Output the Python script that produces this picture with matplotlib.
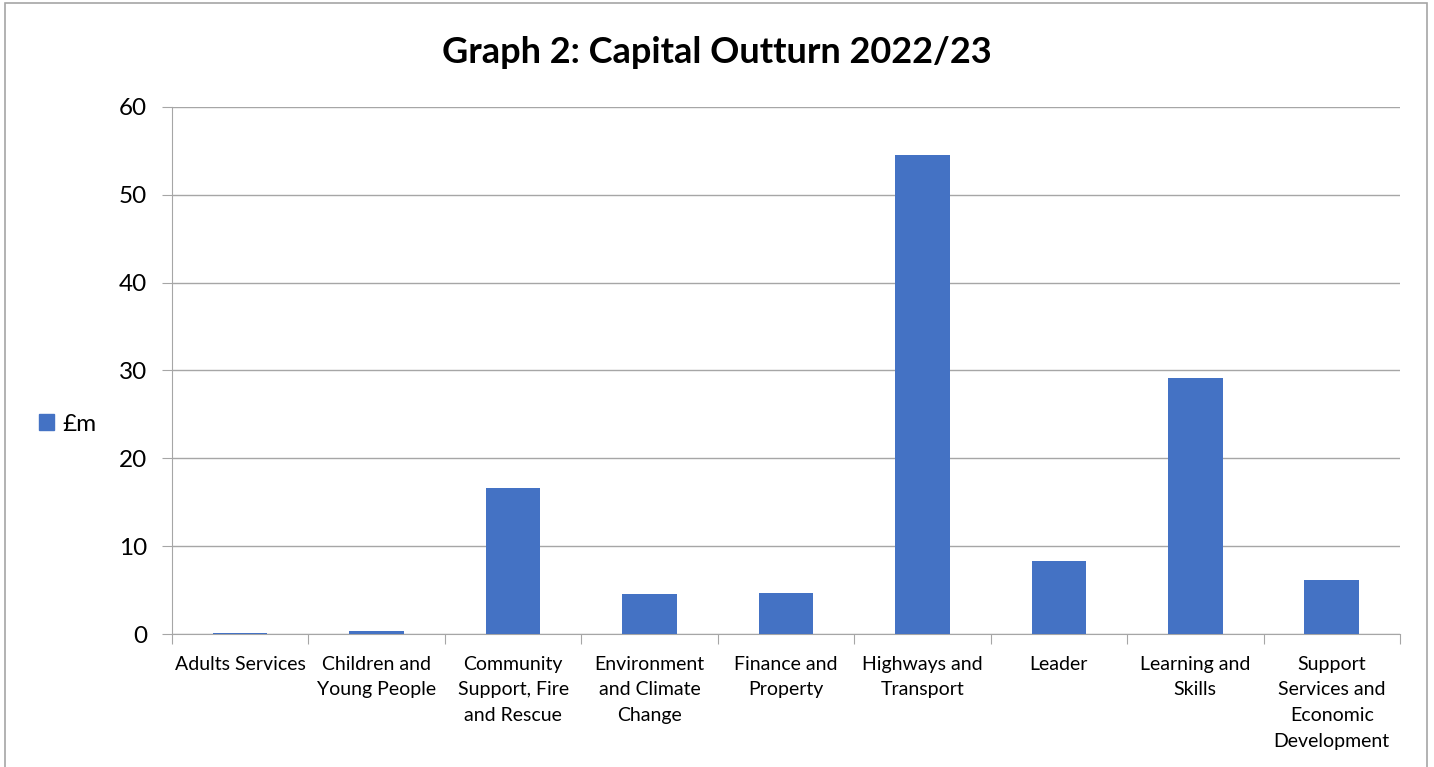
import matplotlib.pyplot as plt
from matplotlib.patches import Rectangle, Patch
import numpy as np

# data
categories = ["Adults Services", "Children and\nYoung People", "Community\nSupport, Fire\nand Rescue",
              "Environment\nand Climate\nChange", "Finance and\nProperty", "Highways and\nTransport",
              "Leader", "Learning and\nSkills", "Support\nServices and\nEconomic\nDevelopment"]
values = [0.08, 0.3, 16.6, 4.6, 4.65, 54.5, 8.3, 29.2, 6.2]
yticks = [0, 10, 20, 30, 40, 50, 60]

plt.rcParams['font.family'] = ['Lato', 'DejaVu Sans']

fig = plt.figure(figsize=(14.34, 7.67), dpi=100)
ax = fig.add_axes([0.1199, 0.1734, 0.8564, 0.6871])

grey = "#a6a6a6"
blue = "#4472c4"

x = np.arange(len(categories))
ax.bar(x, values, width=0.4, color=blue, zorder=3)

ax.set_xlim(-0.5, len(categories) - 0.5)
ax.set_ylim(0, 60)
ax.set_yticks(yticks)
ax.tick_params(axis='y', labelsize=17.5, length=7, color=grey, pad=11)
ax.yaxis.grid(True, color=grey, linewidth=1, zorder=0)

# category labels centred, ticks at boundaries
ax.set_xticks(np.arange(len(categories) + 1) - 0.5)
ax.set_xticklabels([])
ax.tick_params(axis='x', length=7, color=grey)
ax.set_xticks(x, minor=True)
ax.set_xticklabels(categories, minor=True, fontsize=14, linespacing=1.63, va='top')
ax.tick_params(axis='x', which='minor', length=0, pad=15.5)

for side in ["top", "right"]:
    ax.spines[side].set_visible(False)
for side in ["left", "bottom"]:
    ax.spines[side].set_color(grey)

fig.text(0.5, 0.931, "Graph 2: Capital Outturn 2022/23", ha='center', va='center',
         fontsize=26, fontweight='bold')

# legend on the left
fig.legend(handles=[Patch(color=blue, label="£m")], loc='center left',
           bbox_to_anchor=(0.012, 0.447), frameon=False, fontsize=17.5,
           handlelength=0.6, handleheight=0.6, handletextpad=0.35)

# chart border
fig.patches.append(Rectangle((0.0035, -0.01), 0.9916, 1.006, transform=fig.transFigure,
                             fill=False, edgecolor=grey, linewidth=1.2))

fig.savefig("out.png", dpi=100)
